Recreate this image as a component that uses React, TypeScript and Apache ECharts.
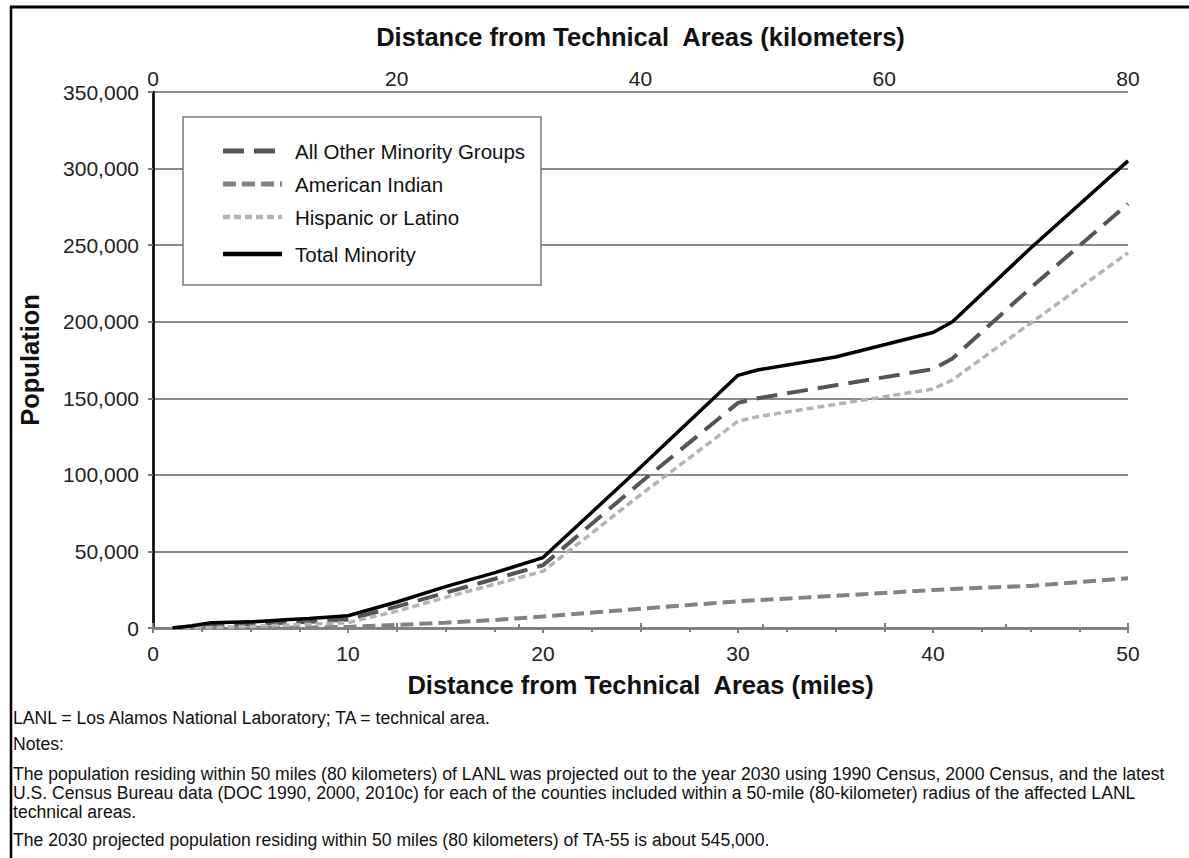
import React, { useEffect, useRef } from "react";
import * as echarts from "echarts";

const FONT = "'Liberation Sans', Arial, Helvetica, sans-serif";

// distance in miles
const miles = [1, 2, 3, 5, 7, 8, 10, 12.5, 15, 17.5, 20, 25, 30, 31, 35, 40, 41, 45, 50];
const allOther = [0, 500, 1500, 2500, 3500, 4000, 5500, 14000, 23000, 32000, 41000, 95000, 147000, 150000, 158500, 169000, 176000, 222000, 277000];
const americanIndian = [0, 0, 0, 100, 200, 300, 700, 2000, 3500, 5200, 7500, 12500, 17500, 18200, 21000, 24800, 25500, 27500, 32500];
const hispanic = [0, 0, 300, 1000, 2000, 2500, 3500, 11000, 20000, 28500, 37000, 87000, 135000, 138000, 146000, 156000, 162000, 199000, 245000];
const totalMinority = [0, 1500, 3500, 4000, 5500, 6200, 8000, 17000, 27000, 36000, 46000, 105000, 165000, 168500, 177000, 193000, 200000, 248000, 305000];

const seriesNames = ["All Other Minority Groups", "American Indian", "Hispanic or Latino", "Total Minority"];
const seriesColors = ["#555555", "#828282", "#b3b3b3", "#000000"];
const seriesWidths = [4, 4, 3.5, 3.5];
const seriesDashes: (number[] | null)[] = [[21, 10], [13, 6], [7, 4], null];

const noteLines = [
  "LANL = Los Alamos National Laboratory; TA = technical area.",
  "Notes:",
  "The population residing within 50 miles (80 kilometers) of LANL was projected out to the year 2030 using 1990 Census, 2000 Census, and the latest",
  "U.S. Census Bureau data (DOC 1990, 2000, 2010c) for each of the counties included within a 50-mile (80-kilometer) radius of the affected LANL",
  "technical areas.",
  "The 2030 projected population residing within 50 miles (80 kilometers) of TA-55 is about 545,000.",
];
const noteY = [718, 744, 774, 793, 812, 840];
const legendRowY = [151, 184, 217, 254];

const seriesValues = [allOther, americanIndian, hispanic, totalMinority];
const pairs = (ys: number[]) => miles.map((m, i) => [m, ys[i]]);

export default function App() {
  const ref = useRef<HTMLDivElement>(null);
  useEffect(() => {
    if (!ref.current) return;
    const chart = echarts.init(ref.current, null, { renderer: "svg" });
    const gray = "#808080";
    const lbl = { fontFamily: FONT, fontSize: 21, color: "#222" };
    const titleStyle = { fontFamily: FONT, fontSize: 25.5, fontWeight: "bold" as const, color: "#111" };

    const legendGraphics: any[] = [
      {
        type: "rect",
        shape: { x: 183, y: 117, width: 358, height: 168 },
        style: { fill: "#fff", stroke: "#777", lineWidth: 1.5 },
        z: 10,
      },
    ];
    seriesNames.forEach((n, i) => {
      legendGraphics.push({
        type: "line",
        shape: { x1: 223, y1: legendRowY[i], x2: 282, y2: legendRowY[i] },
        style: {
          stroke: seriesColors[i],
          lineWidth: seriesWidths[i] + 1,
          lineDash: seriesDashes[i] || undefined,
        },
        z: 11,
      });
      legendGraphics.push({
        type: "text",
        x: 295,
        y: legendRowY[i],
        style: {
          text: n,
          font: `20.5px ${FONT}`,
          fill: "#111",
          textVerticalAlign: "middle",
          textAlign: "left",
        },
        z: 11,
      });
    });

    chart.setOption({
      animation: false,
      backgroundColor: "#fff",
      grid: { left: 153, right: 61, top: 92, bottom: 230 },
      xAxis: [
        {
          type: "value",
          position: "bottom",
          min: 0,
          max: 50,
          interval: 10,
          name: "Distance from Technical  Areas (miles)",
          nameLocation: "middle",
          nameGap: 44,
          nameTextStyle: titleStyle,
          axisLine: { show: true, lineStyle: { color: gray, width: 2.5 } },
          axisTick: { show: true, length: 5, lineStyle: { color: gray, width: 2 } },
          minorTick: { show: true, splitNumber: 4, length: 4, lineStyle: { color: gray, width: 2 } },
          axisLabel: { ...lbl, margin: 15 },
          splitLine: { show: false },
        },
        {
          type: "value",
          position: "top",
          min: 0,
          max: 80,
          interval: 20,
          name: "Distance from Technical  Areas (kilometers)",
          nameLocation: "middle",
          nameGap: 42,
          nameTextStyle: titleStyle,
          axisLine: { show: true, lineStyle: { color: gray, width: 2.5 } },
          axisTick: { show: true, length: 5, lineStyle: { color: gray, width: 2 } },
          minorTick: { show: true, splitNumber: 2, length: 4, lineStyle: { color: gray, width: 2 } },
          axisLabel: { ...lbl, margin: 3 },
          splitLine: { show: false },
        },
      ],
      yAxis: [
        {
          type: "value",
          position: "left",
          min: 0,
          max: 350000,
          interval: 50000,
          name: "Population",
          nameLocation: "middle",
          nameGap: 110,
          nameTextStyle: titleStyle,
          axisLine: { show: true, lineStyle: { color: gray, width: 2.5 } },
          axisTick: { show: true, length: 5, lineStyle: { color: gray, width: 2 } },
          axisLabel: {
            ...lbl,
            margin: 14,
            formatter: (v: number) => v.toLocaleString("en-US"),
          },
          splitLine: { show: true, lineStyle: { color: "#8a8a8a", width: 2 } },
        },
        {
          type: "value",
          position: "right",
          min: 0,
          max: 350000,
          interval: 50000,
          axisLine: { show: true, lineStyle: { color: "#000", width: 2.5 } },
          axisTick: { show: false },
          axisLabel: { show: false },
          splitLine: { show: false },
        },
      ],
      series: seriesNames.map((n, i) => ({
        name: n,
        type: "line",
        data: pairs(seriesValues[i]),
        symbol: "none",
        lineStyle: {
          color: seriesColors[i],
          width: seriesWidths[i],
          type: seriesDashes[i] || "solid",
          cap: "butt",
        },
        itemStyle: { color: seriesColors[i] },
      })),
      graphic: [
        { type: "line", shape: { x1: 10, y1: 7, x2: 1189, y2: 7 }, style: { stroke: "#000", lineWidth: 3 } },
        { type: "line", shape: { x1: 11, y1: 6, x2: 11, y2: 858 }, style: { stroke: "#000", lineWidth: 2.5 } },
        ...legendGraphics,
        ...noteLines.map((t, i) => ({
          type: "text",
          x: 13,
          y: noteY[i],
          style: {
            text: t,
            font: `17.6px ${FONT}`,
            fill: "#111",
            textVerticalAlign: "middle",
            textAlign: "left",
          },
        })),
      ],
    });
    return () => chart.dispose();
  }, []);
  return <div ref={ref} style={{ position: "fixed", left: 0, top: 0, width: 1189, height: 858 }} />;
}
